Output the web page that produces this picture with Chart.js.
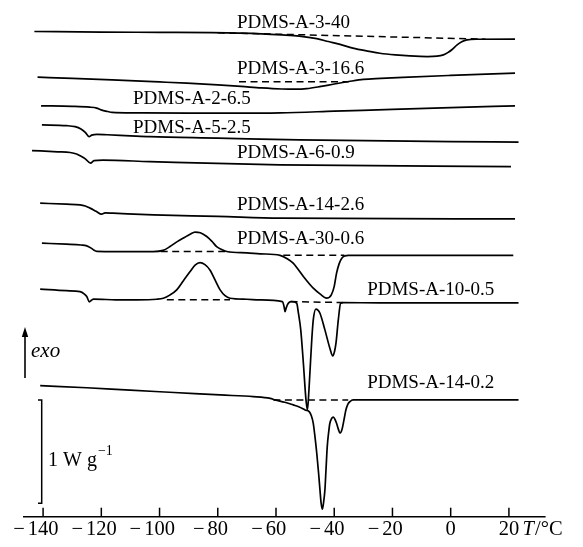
<!DOCTYPE html>
<html>
<head>
<meta charset="utf-8">
<script src="https://cdn.jsdelivr.net/npm/chart.js@4.4.0/dist/chart.umd.min.js"></script>
<style>
  html, body { margin: 0; padding: 0; background: #fff; }
</style>
</head>
<body>
<canvas id="dscChart" width="583" height="547"></canvas>
<script>
// temperature ticks, °C
const tempTicks = [-140, -120, -100, -80, -60, -40, -20, 0, 20];

const sampleNames = [
  "PDMS-A-3-40",
  "PDMS-A-3-16.6",
  "PDMS-A-2-6.5",
  "PDMS-A-5-2.5",
  "PDMS-A-6-0.9",
  "PDMS-A-14-2.6",
  "PDMS-A-30-0.6",
  "PDMS-A-10-0.5",
  "PDMS-A-14-0.2",
];

// vertical shift of each trace, W/g
const offsets = [4.621, 4.292, 3.976, 3.624, 3.388, 2.882, 2.529, 2.069, 1.13];

// heat flow traces: [T (°C), heat flow (W/g, exo up)]
const traceA3_40 = [
  [-143.0, 0.074], [-120, 0.069], [-100, 0.066], [-82, 0.063], [-65, 0.052],
  [-58, 0.042], [-52, 0.03], [-46, 0.005], [-42, -0.023], [-38, -0.05],
  [-33.6, -0.087], [-28, -0.118], [-24.3, -0.136], [-19, -0.152], [-14, -0.162],
  [-8, -0.168], [-4.7, -0.165], [-2.5, -0.152], [-1.0, -0.13], [0.5, -0.1],
  [2.1, -0.058], [3.8, -0.025], [5.6, -0.007], [9, -0.001], [22.1, 0],
];
const traceA3_16 = [
  [-141.9, -0.039], [-130, -0.05], [-116.3, -0.065], [-100, -0.085], [-90.6, -0.097],
  [-80, -0.113], [-72, -0.128], [-65, -0.143], [-58, -0.153], [-53, -0.155],
  [-49.5, -0.15], [-44.5, -0.128], [-40, -0.105], [-35, -0.081], [-30, -0.06],
  [-24, -0.05], [-16.4, -0.04], [0, -0.022], [22.1, 0],
];
const traceA2_6 = [
  [-140.7, 0], [-130, -0.005], [-124, -0.013], [-121.6, -0.022], [-120.1, -0.039],
  [-117.8, -0.055], [-116.3, -0.063], [-108, -0.068], [-90, -0.071], [-75, -0.071],
  [-58.6, -0.068], [-40, -0.052], [-20, -0.034], [0, -0.017], [22.1, 0],
];
const traceA5_2 = [
  [-140.4, 0.167], [-132, 0.16], [-129, 0.15], [-127, 0.128], [-125.5, 0.095],
  [-124.2, 0.054], [-123.3, 0.068], [-121.5, 0.076], [-118, 0.072], [-110, 0.062],
  [-103.3, 0.054], [-80, 0.04], [-52.1, 0.022], [0, 0.006], [23.3, 0],
];
const traceA6_09 = [
  [-143.8, 0.155], [-135, 0.143], [-130.7, 0.136], [-128.5, 0.122], [-127.3, 0.104],
  [-125.5, 0.075], [-123.7, 0.033], [-122.5, 0.057], [-119.4, 0.062], [-103.3, 0.048],
  [-58.6, 0.016], [20.7, 0],
];
const traceA14_26 = [
  [-141.0, 0.152], [-132, 0.142], [-127.3, 0.136], [-125.5, 0.124], [-123.9, 0.104],
  [-121.8, 0.073], [-119.9, 0.045], [-118.7, 0.058], [-116, 0.055], [-102.1, 0.039],
  [-80, 0.024], [-58.6, 0.007], [22.1, 0],
];
const traceA30_06 = [
  [-140.4, 0.118], [-132, 0.108], [-127, 0.1], [-125, 0.092], [-123.5, 0.07],
  [-122.7, 0.053], [-121.5, 0.039], [-115, 0.037], [-102.2, 0.037], [-98.8, 0.048],
  [-96.4, 0.085], [-93.8, 0.135], [-91.8, 0.167], [-89.5, 0.205], [-87.8, 0.225],
  [-86, 0.218], [-83.8, 0.182], [-82, 0.135], [-80.4, 0.085], [-78.5, 0.055],
  [-76.9, 0.037], [-70, 0.024], [-65.5, 0.015], [-58.6, 0], [-56, -0.035],
  [-54.1, -0.076], [-52.3, -0.14], [-50.6, -0.205], [-47.2, -0.318], [-44.9, -0.373],
  [-42.6, -0.414], [-41.0, -0.382], [-40, -0.3], [-39.2, -0.172], [-38.3, -0.08],
  [-37.4, -0.027], [-36.3, -0.005], [-35.2, 0], [21.5, 0],
];
const traceA10_05 = [
  [-141.0, 0.133], [-132, 0.118], [-127.3, 0.109], [-125.8, 0.085], [-125.0, 0.061],
  [-124.1, 0.01], [-123.4, 0.025], [-122.7, 0.036], [-115, 0.03], [-107.8, 0.029],
  [-101, 0.035], [-98.7, 0.045], [-96.5, 0.075], [-94.1, 0.126], [-91.8, 0.215],
  [-89.5, 0.303], [-87.8, 0.365], [-86.1, 0.39], [-84.4, 0.37], [-82.7, 0.319],
  [-80.9, 0.22], [-79.2, 0.126], [-77.5, 0.07], [-75.8, 0.045], [-70, 0.035],
  [-65.5, 0.029], [-57.8, 0.013], [-57.2, -0.04], [-56.9, -0.084], [-56.5, -0.05],
  [-56.1, -0.019], [-55.3, 0.008], [-54.6, 0.013], [-52.9, -0.003], [-52.3, -0.1],
  [-51.5, -0.261], [-50.6, -0.584], [-49.7, -0.939], [-49.2, -1.036], [-48.7, -0.85],
  [-48.3, -0.649], [-47.7, -0.35], [-47.2, -0.165], [-46.3, -0.061], [-45.6, -0.07],
  [-44.9, -0.1], [-43.2, -0.261], [-41.5, -0.438], [-40.5, -0.513], [-39.9, -0.47],
  [-39.4, -0.39], [-38.6, -0.165], [-37.8, -0.003], [-36.9, 0.003], [-24.3, 0],
  [23.3, 0],
];
const traceA14_02 = [
  [-141.0, 0.138], [-125, 0.118], [-110.1, 0.094], [-95, 0.072], [-79.2, 0.048],
  [-67.8, 0.032], [-62, 0.015], [-60.3, 0], [-57, -0.022], [-54.1, -0.048],
  [-52, -0.068], [-50.0, -0.097], [-48.6, -0.113], [-47.9, -0.15], [-47.2, -0.226],
  [-46.6, -0.36], [-46.0, -0.516], [-45.4, -0.7], [-44.9, -0.871], [-44.5, -1.0],
  [-44.1, -1.058], [-43.7, -1.0], [-43.2, -0.871], [-42.8, -0.66], [-42.4, -0.452],
  [-41.9, -0.31], [-41.5, -0.226], [-40.9, -0.18], [-40.3, -0.167], [-39.7, -0.19],
  [-39.2, -0.226], [-38.5, -0.29], [-38.0, -0.322], [-37.5, -0.3], [-37.1, -0.258],
  [-36.5, -0.17], [-36.0, -0.097], [-35.3, -0.04], [-34.6, -0.016], [-33.5, 0],
  [23.3, 0],
];

// interpolated baselines under the peaks: [trace index, start, end]
const baselines = [
  [0, [-80, 0.062], [12, 0]],
  [1, [-72.7, -0.084], [-35, -0.084]],
  [6, [-99.6, 0.037], [-75.8, 0.037]],
  [6, [-57.5, 0], [-36.5, 0]],
  [7, [-97.5, 0.03], [-75.8, 0.03]],
  [7, [-55, 0.013], [-37, 0.003]],
  [8, [-60.9, 0], [-35.2, 0]],
];

const traces = [
  traceA3_40, traceA3_16, traceA2_6, traceA5_2, traceA6_09,
  traceA14_26, traceA30_06, traceA10_05, traceA14_02,
];

// where each sample name sits: [left edge T, centre in W/g]
const labelSpots = [
  [-73.4, 4.776], [-73.4, 4.331], [-109.1, 4.041], [-109.1, 3.766], [-73.4, 3.518],
  [-73.4, 3.017], [-73.4, 2.685], [-28.7, 2.195], [-28.7, 1.291],
];

const datasets = [];
traces.forEach((tr, i) => {
  datasets.push({
    label: sampleNames[i],
    data: tr.map(([t, q]) => ({ x: t, y: q + offsets[i] })),
    borderColor: "#000",
    borderWidth: 1.7,
    showLine: true,
    pointRadius: 0,
    cubicInterpolationMode: "monotone",
  });
});
baselines.forEach(([i, a, b]) => {
  datasets.push({
    label: sampleNames[i] + " baseline",
    data: [a, b].map(([t, q]) => ({ x: t, y: q + offsets[i] })),
    borderColor: "#000",
    borderWidth: 1.5,
    borderDash: [7, 4.5],
    showLine: true,
    pointRadius: 0,
  });
});

const serif = "'Liberation Serif', 'Times New Roman', serif";

const decor = {
  id: "decor",
  afterDraw(chart) {
    const { ctx, chartArea, scales } = chart;
    const xs = scales.x;
    const ys = scales.y;
    const base = chartArea.bottom;
    ctx.save();
    ctx.strokeStyle = "#000";
    ctx.fillStyle = "#000";

    // temperature axis with inward ticks
    ctx.lineWidth = 1.5;
    ctx.beginPath();
    ctx.moveTo(chartArea.left, base);
    ctx.lineTo(chartArea.right, base);
    ctx.stroke();
    ctx.font = "20.5px " + serif;
    ctx.textBaseline = "alphabetic";
    tempTicks.forEach((t) => {
      const x = xs.getPixelForValue(t);
      ctx.beginPath();
      ctx.moveTo(x, base);
      ctx.lineTo(x, base - 9);
      ctx.stroke();
      const digits = String(Math.abs(t));
      ctx.textAlign = "center";
      ctx.fillText(digits, x, base + 18);
      if (t < 0) {
        const w = ctx.measureText(digits).width;
        ctx.textAlign = "right";
        ctx.fillText("\u2212", x - w / 2 - 3, base + 18);
      }
    });
    ctx.textAlign = "left";
    ctx.font = "italic 20.5px " + serif;
    const tx = chartArea.right - 23;
    ctx.fillText("T", tx, base + 18);
    const tw = ctx.measureText("T").width;
    ctx.font = "20.5px " + serif;
    ctx.fillText("/\u00b0C", tx + tw + 1, base + 18);

    // sample names
    ctx.font = "19px " + serif;
    ctx.textBaseline = "middle";
    sampleNames.forEach((name, i) => {
      const [t, v] = labelSpots[i];
      ctx.fillText(name, xs.getPixelForValue(t), ys.getPixelForValue(v));
    });

    // exo arrow
    ctx.lineWidth = 1.6;
    ctx.beginPath();
    ctx.moveTo(25, 378);
    ctx.lineTo(25, 334);
    ctx.stroke();
    ctx.beginPath();
    ctx.moveTo(25, 327);
    ctx.lineTo(21.8, 337);
    ctx.lineTo(28.2, 337);
    ctx.closePath();
    ctx.fill();
    ctx.font = "italic 21px " + serif;
    ctx.textBaseline = "middle";
    ctx.fillText("exo", 31, 351);

    // 1 W/g scale bar
    const yTop = ys.getPixelForValue(1.13);
    const yBot = ys.getPixelForValue(0.13);
    ctx.lineWidth = 1.5;
    ctx.beginPath();
    ctx.moveTo(38, yTop);
    ctx.lineTo(41.7, yTop);
    ctx.lineTo(41.7, yBot);
    ctx.lineTo(38, yBot);
    ctx.stroke();
    ctx.textBaseline = "alphabetic";
    ctx.font = "20px " + serif;
    const mid = (yTop + yBot) / 2;
    ctx.fillText("1 W g", 48, mid + 14);
    const gw = ctx.measureText("1 W g").width;
    ctx.font = "14px " + serif;
    ctx.fillText("\u22121", 48 + gw + 1, mid + 3);
    ctx.restore();
  },
};

new Chart(document.getElementById("dscChart"), {
  type: "scatter",
  data: { datasets },
  options: {
    responsive: false,
    animation: false,
    layout: { padding: { left: 23, right: 37.4, top: 0, bottom: 30.3 } },
    scales: {
      x: { type: "linear", min: -146.9, max: 32.6, display: false },
      y: { min: 0, max: 5, display: false },
    },
    plugins: {
      legend: { display: false },
      tooltip: { enabled: false },
    },
  },
  plugins: [decor],
});
</script>
</body>
</html>
